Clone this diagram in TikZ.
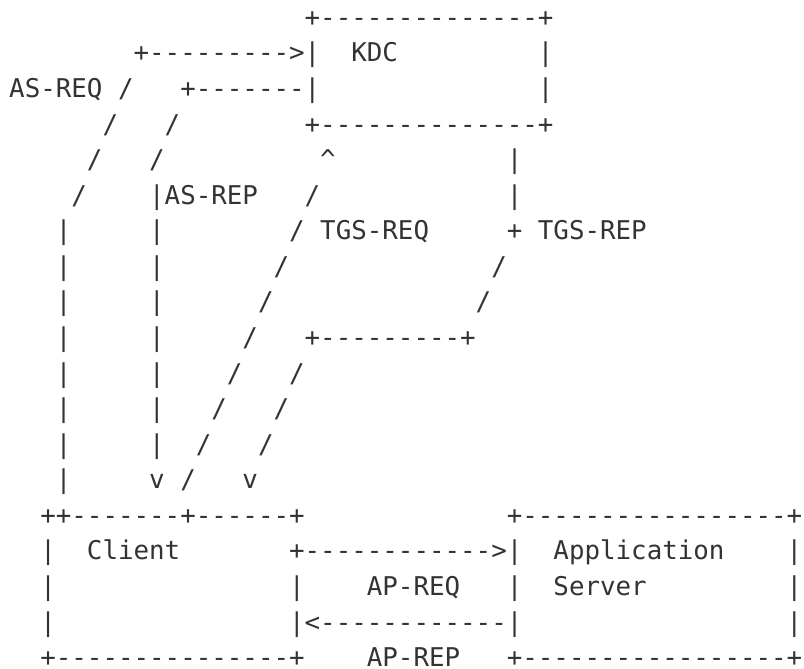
\documentclass[tikz,border=0pt]{standalone}
\usepackage{fontspec}
\setmonofont{DejaVu Sans Mono}
\definecolor{ink}{RGB}{51,51,51}
\tikzset{
  asc/.style={anchor=base west, inner sep=0pt, outer sep=0pt, text=ink,
    font=\ttfamily\fontsize{25.83pt}{30pt}\selectfont}
}
% place text #3 at column #1, row #2 of the character grid
\newcommand\gridtext[3]{\node[asc] (r#2c#1) at ({9.22pt+15.55pt*#1},{669pt-26.4pt-35.57pt*#2}) {#3};}
\begin{document}
\begin{tikzpicture}
\useasboundingbox (0,0) rectangle (804pt,669pt);
% KDC box and AS exchange
\gridtext{19}{0}{+--------------+}
\gridtext{8}{1}{+--------->|}
\gridtext{22}{1}{KDC}
\gridtext{34}{1}{|}
\gridtext{0}{2}{AS-REQ}
\gridtext{7}{2}{/}
\gridtext{11}{2}{+-------|}
\gridtext{34}{2}{|}
\gridtext{6}{3}{/}
\gridtext{10}{3}{/}
\gridtext{19}{3}{+--------------+}
\gridtext{5}{4}{/}
\gridtext{9}{4}{/}
\gridtext{20}{4}{\char"5E}
\gridtext{32}{4}{|}
\gridtext{4}{5}{/}
\gridtext{9}{5}{|AS-REP}
\gridtext{19}{5}{/}
\gridtext{32}{5}{|}
\gridtext{3}{6}{|}
\gridtext{9}{6}{|}
\gridtext{18}{6}{/}
\gridtext{20}{6}{TGS-REQ}
\gridtext{32}{6}{+}
\gridtext{34}{6}{TGS-REP}
\gridtext{3}{7}{|}
\gridtext{9}{7}{|}
\gridtext{17}{7}{/}
\gridtext{31}{7}{/}
\gridtext{3}{8}{|}
\gridtext{9}{8}{|}
\gridtext{16}{8}{/}
\gridtext{30}{8}{/}
\gridtext{3}{9}{|}
\gridtext{9}{9}{|}
\gridtext{15}{9}{/}
\gridtext{19}{9}{+---------+}
\gridtext{3}{10}{|}
\gridtext{9}{10}{|}
\gridtext{14}{10}{/}
\gridtext{18}{10}{/}
\gridtext{3}{11}{|}
\gridtext{9}{11}{|}
\gridtext{13}{11}{/}
\gridtext{17}{11}{/}
\gridtext{3}{12}{|}
\gridtext{9}{12}{|}
\gridtext{12}{12}{/}
\gridtext{16}{12}{/}
\gridtext{3}{13}{|}
\gridtext{9}{13}{v}
\gridtext{11}{13}{/}
\gridtext{15}{13}{v}
% Client and Application Server
\gridtext{2}{14}{++-------+------+}
\gridtext{32}{14}{+-----------------+}
\gridtext{2}{15}{|}
\gridtext{5}{15}{Client}
\gridtext{18}{15}{+------------>|}
\gridtext{35}{15}{Application}
\gridtext{50}{15}{|}
\gridtext{2}{16}{|}
\gridtext{18}{16}{|}
\gridtext{23}{16}{AP-REQ}
\gridtext{32}{16}{|}
\gridtext{35}{16}{Server}
\gridtext{50}{16}{|}
\gridtext{2}{17}{|}
\gridtext{18}{17}{|<------------|}
\gridtext{50}{17}{|}
\gridtext{2}{18}{+---------------+}
\gridtext{23}{18}{AP-REP}
\gridtext{32}{18}{+-----------------+}
\end{tikzpicture}
\end{document}
